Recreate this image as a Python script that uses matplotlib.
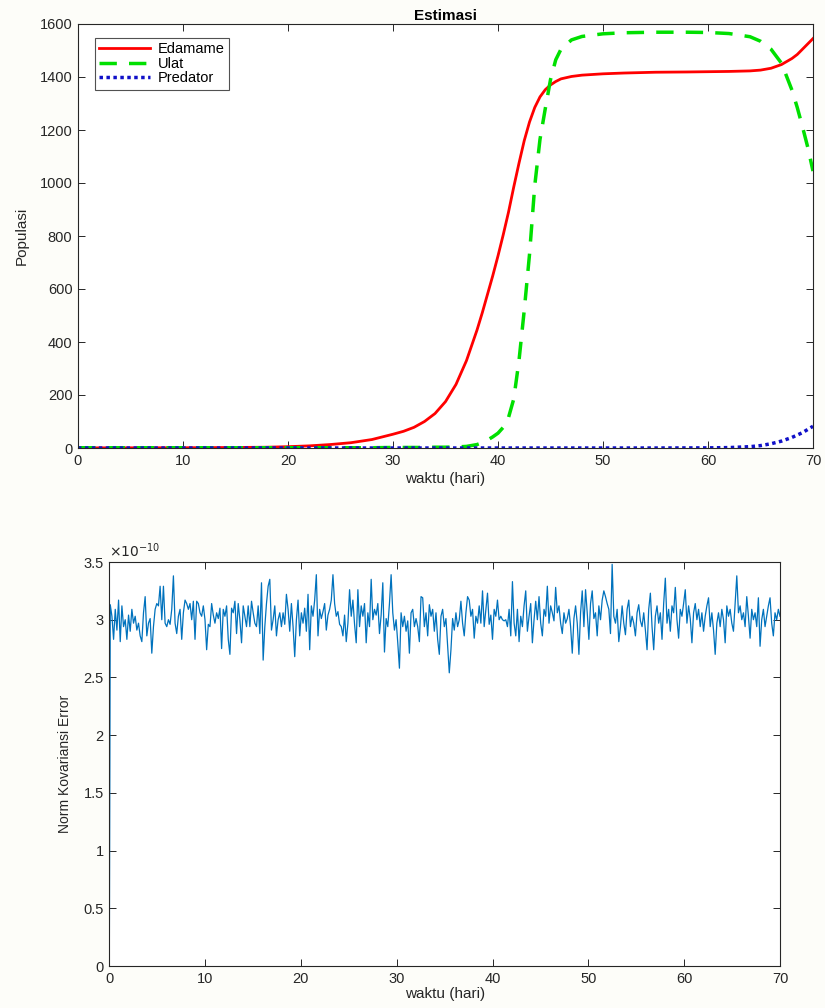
import numpy as np
import matplotlib
matplotlib.use("Agg")
import matplotlib.pyplot as plt
from matplotlib.ticker import FuncFormatter, MultipleLocator

plt.rcParams['font.family'] = ['Liberation Sans', 'DejaVu Sans']

# ---------------- top chart data (Estimasi) ----------------
t_top = [0, 5, 10, 15, 18, 20, 22, 24, 26, 28, 30, 31, 32, 33, 34, 35, 36, 37,
         38, 38.5, 39, 39.5, 40, 40.5, 41, 41.5, 42, 42.5, 43, 43.5, 44, 44.5,
         45, 45.5, 46, 47, 48, 50, 52, 55, 58, 60, 62, 64, 65, 66, 67, 68,
         68.5, 69, 69.5, 70]
edamame = [0.5, 0.7, 1, 2, 3, 5, 8, 13, 20, 32, 52, 63, 78, 100, 130, 175, 240, 330,
           445, 510, 580, 650, 725, 805, 890, 985, 1075, 1160, 1230, 1285, 1325, 1352,
           1370, 1383, 1393, 1402, 1407, 1412, 1415, 1418, 1419, 1420, 1421, 1423, 1426,
           1433, 1447, 1470, 1485, 1505, 1525, 1545]
ulat = [1, 1, 1, 1, 1, 1, 1, 1, 1, 1, 2, 2, 2, 2, 3, 3, 4, 6,
        13, 20, 30, 42, 56, 78, 115, 185, 330, 520, 730, 990, 1165, 1280,
        1390, 1465, 1505, 1540, 1553, 1563, 1567, 1569, 1569, 1568, 1564, 1552, 1535,
        1505, 1452, 1350, 1285, 1212, 1135, 1045]
predator = [0, 0, 0, 0, 0, 0, 0, 0, 0, 0, 0, 0, 0, 0, 0, 0, 0, 0,
            0, 0, 0, 0, 0, 0, 0, 0, 0, 0, 0, 0, 0, 0,
            0, 0, 0, 0, 0, 0, 0, 0, 0.3, 0.5, 1.5, 5, 9,
            16, 26, 40, 49, 58, 70, 82]
series_labels = ['Edamame', 'Ulat', 'Predator']

# ---------------- bottom chart data (Norm Kovariansi Error, x1e-10) ----------------
noise_seg1 = [3.13, 3.03, 2.83, 3.09, 2.91, 3.17, 2.81, 3.12, 2.94, 3.00, 2.83, 3.04, 2.90,
              3.09, 2.97, 3.03, 2.91, 2.97, 2.86, 2.81, 3.06, 3.20, 2.86, 2.97, 3.01, 2.71,
              2.94, 3.09, 3.14, 3.12, 3.29, 3.00, 3.29, 2.97, 2.94, 3.00, 2.96, 3.09, 3.38,
              2.97, 2.88, 3.03, 3.09, 2.83, 3.06, 3.17, 3.14, 3.09, 3.14, 3.00, 3.16, 2.83,
              3.16, 3.14, 3.06, 3.03, 3.12, 3.00, 2.74, 2.96, 2.94, 3.14, 3.04, 2.97, 3.06,
              3.01, 3.10, 2.75, 3.09, 3.03, 3.12, 2.83, 2.70, 3.10, 3.06, 3.16, 2.88, 3.14,
              3.00, 2.80, 3.12, 3.03, 2.94, 3.12, 2.94, 3.16, 3.06, 2.97, 2.94, 3.12, 2.88,
              3.32, 2.65, 2.94, 3.14, 3.29, 3.35, 2.91, 3.00, 3.12, 2.86, 3.00, 3.06]
noise_seg2 = [2.94, 3.06, 2.96, 3.22, 3.09, 2.90, 3.14, 2.94, 2.68, 3.00, 3.17, 2.86, 3.06,
              2.97, 3.10, 2.90, 3.22, 2.74, 3.12, 3.03, 3.17, 3.39, 2.86, 3.09, 3.01, 3.07,
              3.14, 2.91, 3.04, 3.09, 3.17, 3.39, 3.14, 3.03, 3.07, 2.96, 2.94, 2.86, 3.04,
              2.81, 2.97, 3.26, 3.03, 3.17, 2.96, 2.80, 3.26, 2.94, 3.12, 3.03, 3.14, 2.80,
              3.06, 2.94, 3.35, 3.00, 3.09, 3.04, 3.14, 2.88, 3.04, 3.32, 2.72, 3.01, 2.94,
              3.14, 3.39, 3.06, 2.91, 3.00, 2.80, 2.58, 3.06, 2.94, 3.03, 2.90, 2.99, 2.71,
              3.06, 3.09, 2.94, 3.01, 2.94, 2.81, 3.20, 3.19, 2.94, 3.06, 2.86, 3.13, 3.03,
              3.09, 2.90, 3.06, 2.83, 2.70, 3.03, 3.09, 2.94, 3.01, 2.77, 2.54]
noise_seg3 = [2.74, 3.01, 2.91, 3.06, 2.94, 3.00, 3.16, 2.97, 2.86, 3.06, 3.20, 3.17, 3.03,
              3.09, 2.84, 3.03, 2.97, 3.12, 2.97, 3.25, 2.94, 3.09, 3.23, 2.96, 3.04, 2.83,
              3.09, 3.03, 3.17, 3.00, 3.03, 3.00, 2.99, 3.00, 2.94, 3.09, 2.86, 3.33, 2.97,
              2.86, 3.09, 2.81, 3.03, 2.94, 3.12, 3.25, 2.90, 3.03, 3.14, 2.80, 3.00, 3.16,
              3.00, 3.20, 2.97, 2.86, 3.09, 3.03, 3.29, 2.97, 3.12, 3.06, 2.99, 3.28, 3.06,
              3.12, 2.97, 2.88, 3.06, 2.97, 3.01, 3.09, 2.94, 2.71, 3.01, 3.12, 2.97, 2.70,
              3.06, 3.25, 2.94, 3.26, 3.06, 2.83, 3.14, 3.25, 3.01, 3.06, 2.86, 3.12, 3.00,
              3.17, 3.25, 3.20, 3.14, 3.09, 2.88, 3.48, 3.03, 2.97, 3.09, 2.81]
noise_seg4 = [2.94, 3.12, 2.97, 2.87, 3.09, 3.17, 2.94, 3.03, 2.97, 2.86, 3.06, 3.13, 2.99,
              2.94, 3.06, 2.91, 2.74, 3.09, 3.23, 2.94, 2.74, 3.03, 3.12, 2.97, 3.06, 2.83,
              3.14, 3.36, 2.97, 3.09, 2.90, 3.12, 3.06, 3.28, 3.00, 2.84, 3.09, 3.03, 3.14,
              3.26, 2.97, 3.12, 3.01, 2.80, 3.06, 3.14, 3.00, 3.09, 2.94, 3.06, 2.90, 3.03,
              3.12, 3.19, 2.94, 3.06, 2.91, 2.70, 2.97, 3.06, 2.94, 3.09, 3.00, 2.80, 3.12,
              3.03, 3.09, 2.97, 2.90, 3.14, 3.38, 3.06, 3.12, 3.00, 3.06, 2.94, 3.20, 3.03,
              2.84, 3.09, 3.00, 3.06, 2.94, 3.19, 2.77, 3.00, 3.09, 2.94, 3.03, 3.12, 3.19,
              2.97, 2.86, 3.06, 3.00, 3.09, 3.03]
noise_start = 0.0
noise_scale = 1e-10

# ---------------- figure ----------------
fig = plt.figure(figsize=(8.25, 10.08), dpi=100, facecolor='#fdfdf9')
ax1 = fig.add_axes([78 / 825, 1 - 448 / 1008, 735 / 825, 424 / 1008])
ax2 = fig.add_axes([109.3 / 825, 1 - 966 / 1008, 670.7 / 825, 404 / 1008])

axc = '#262626'

def style(ax):
    ax.set_facecolor('white')
    for s in ax.spines.values():
        s.set_color(axc)
        s.set_linewidth(0.8)
    ax.tick_params(direction='in', top=True, right=True, length=5, width=0.7,
                   colors=axc, labelsize=10.5, pad=4)

# top
ax1.plot(t_top, edamame, color='#ff0000', lw=2.0, label=series_labels[0])
ax1.plot(t_top, ulat, color='#00e000', lw=2.5, ls=(0, (5, 3.5)), label=series_labels[1])
ax1.plot(t_top, predator, color='#1010c8', lw=2.5, ls=(0, (1, 1)), label=series_labels[2])
ax1.set_xlim(0, 70)
ax1.set_ylim(0, 1600)
ax1.xaxis.set_major_locator(MultipleLocator(10))
ax1.yaxis.set_major_locator(MultipleLocator(200))
style(ax1)
ax1.set_title('Estimasi', fontsize=11, fontweight='bold', color='black', pad=3)
ax1.set_xlabel('waktu (hari)', fontsize=11, color=axc, labelpad=3)
ax1.set_ylabel('Populasi', fontsize=11, color=axc, labelpad=8)
leg = ax1.legend(loc='upper left', bbox_to_anchor=(0.023, 0.968), fontsize=10.5,
                 frameon=True, fancybox=False, edgecolor=axc, handlelength=3.5,
                 borderpad=0.3, labelspacing=0.05, handletextpad=0.5, borderaxespad=0)
leg.get_frame().set_linewidth(0.8)

# bottom
noise_vals = np.array([noise_start] + noise_seg1 + noise_seg2 + noise_seg3 + noise_seg4) * noise_scale
t_noise = np.concatenate([[0.0], np.linspace(0.1, 70, len(noise_vals) - 1)])
ax2.plot(t_noise, noise_vals, color='#0072bd', lw=0.9)
ax2.set_xlim(0, 70)
ax2.set_ylim(0, 3.5e-10)
ax2.xaxis.set_major_locator(MultipleLocator(10))
ax2.yaxis.set_major_locator(MultipleLocator(0.5e-10))
ax2.yaxis.set_major_formatter(FuncFormatter(lambda v, p: '%g' % round(v / noise_scale, 3)))
style(ax2)
ax2.set_xlabel('waktu (hari)', fontsize=11, color=axc, labelpad=1)
ax2.set_ylabel('Norm Kovariansi Error', fontsize=10, color=axc, labelpad=8)
ax2.text(0.0, 1.005, r'$\times 10^{-10}$', transform=ax2.transAxes, fontsize=10,
         color=axc, ha='left', va='bottom')

fig.savefig('out.png', dpi=100, facecolor=fig.get_facecolor())
